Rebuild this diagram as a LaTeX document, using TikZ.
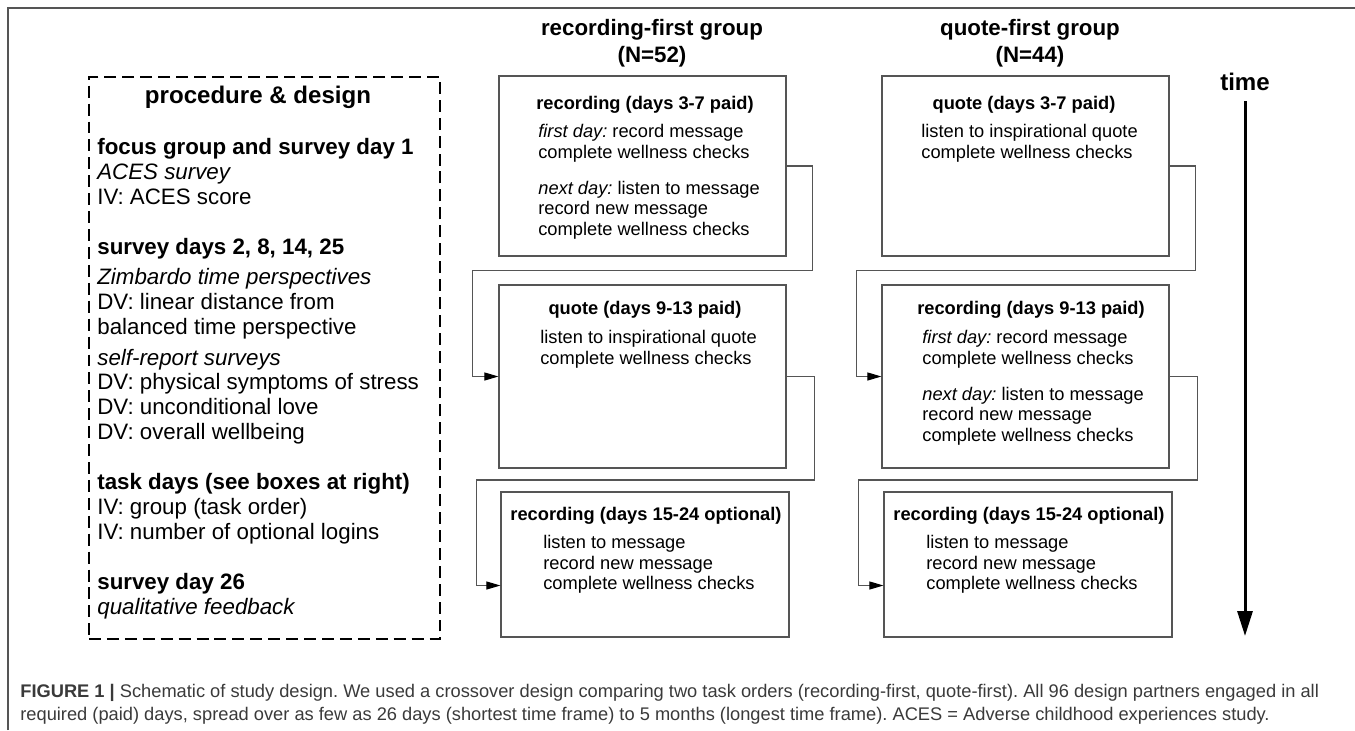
\documentclass[tikz,border=0pt]{standalone}
\usepackage{fontspec}
\setmainfont{Liberation Sans}
\usepackage{xcolor}
\usetikzlibrary{arrows.meta,calc,positioning}
\frenchspacing

\definecolor{boxgray}{HTML}{555555}
\definecolor{capgray}{HTML}{3A3A3A}

\begin{document}
\begin{tikzpicture}[x=0.02cm,y=-0.02cm,
    stage/.style={draw=boxgray, line width=0.7pt, minimum width=5.74cm, inner sep=0pt},
    flow/.style={boxgray, line width=0.6pt, -{Triangle[length=0.28cm,width=0.16cm,color=black]}},
    stitle/.style={font=\fontsize{10.4}{11.7}\selectfont\bfseries, anchor=base, inner sep=0pt},
    sbody/.style={font=\fontsize{10.4}{11.66}\selectfont, align=left, anchor=north west, inner sep=0pt},
    grphead/.style={font=\fontsize{12.7}{15.4}\selectfont\bfseries, align=center, inner sep=0pt},
    dashbox/.style={draw, line width=1.1pt, dash pattern=on 6.8pt off 3.4pt, inner sep=0pt}]
    \useasboundingbox (0,0) rectangle (1355,730);
    \draw[boxgray, line width=0.85pt] (8,730) -- (8,8) -- (1355,8);

    \node[dashbox, minimum width=7.02cm, minimum height=11.24cm] (proc) at (264.5,358) {};
    \node[font=\fontsize{13.7}{16}\selectfont\bfseries, inner sep=0pt] (proctitle) at (258,97) {procedure \& design};
    \node[font=\fontsize{12.7}{14.2}\selectfont, align=left, anchor=north west, inner sep=0pt] (procbody) at (97,138) {%
        \textbf{focus group and survey day 1}\\
        \textit{ACES survey}\\
        IV: ACES score\\[14.2pt]
        \textbf{survey days 2, 8, 14, 25}\\[2.8pt]
        \textit{Zimbardo time perspectives}\\
        DV: linear distance from\\
        balanced time perspective\\[3.4pt]
        \textit{self-report surveys}\\
        DV: physical symptoms of stress\\
        DV: unconditional love\\
        DV: overall wellbeing\\[14.2pt]
        \textbf{task days (see boxes at right)}\\
        IV: group (task order)\\
        IV: number of optional logins\\[14.2pt]
        \textbf{survey day 26}\\
        \textit{qualitative feedback}};

    \node[grphead] (rfirst) at (652,43.5) {recording-first group\\(N=52)};
    \node[grphead] (qfirst) at (1030,43.5) {quote-first group\\(N=44)};

    \node[stage, minimum height=3.6cm] (r1) at (642.5,166) {};
    \node[stage, minimum height=3.66cm] (r2) at (642.5,376.5) {};
    \node[stage, minimum height=2.9cm, minimum width=5.76cm] (r3) at (645,564.5) {};
    \node[stage, minimum height=3.6cm] (q1) at (1025.5,166) {};
    \node[stage, minimum height=3.66cm] (q2) at (1025.5,376.5) {};
    \node[stage, minimum height=2.9cm, minimum width=5.76cm] (q3) at (1028,564.5) {};

    \node[stitle] (r1t) at (645,109.5) {recording (days 3-7 paid)};
    \node[sbody] (r1b) at (538,124) {\textit{first day:} record message\\
        complete wellness checks\\[8.8pt]
        \textit{next day:} listen to message\\
        record new message\\
        complete wellness checks};
    \node[stitle] (r2t) at (645,314.5) {quote (days 9-13 paid)};
    \node[sbody] (r2b) at (540,330) {listen to inspirational quote\\
        complete wellness checks};
    \node[stitle] (r3t) at (646,520.5) {recording (days 15-24 optional)};
    \node[sbody] (r3b) at (543,535) {listen to message\\
        record new message\\
        complete wellness checks};

    \node[stitle] (q1t) at (1024,109.5) {quote (days 3-7 paid)};
    \node[sbody] (q1b) at (921,124) {listen to inspirational quote\\
        complete wellness checks};
    \node[stitle] (q2t) at (1031,314.5) {recording (days 9-13 paid)};
    \node[sbody] (q2b) at (922,330) {\textit{first day:} record message\\
        complete wellness checks\\[8.8pt]
        \textit{next day:} listen to message\\
        record new message\\
        complete wellness checks};
    \node[stitle] (q3t) at (1029,520.5) {recording (days 15-24 optional)};
    \node[sbody] (q3b) at (926,535) {listen to message\\
        record new message\\
        complete wellness checks};

    \coordinate (r12) at ($(r1.south)!.5!(r2.north)$);
    \coordinate (r23) at ($(r2.south)!.5!(r3.north)$);
    \coordinate (q12) at ($(q1.south)!.5!(q2.north)$);
    \coordinate (q23) at ($(q2.south)!.5!(q3.north)$);
    \draw[flow] (r1.east) -- ++(26,0) |- ($(r2.west |- r12)+(-26,0)$) |- (r2.west);
    \draw[flow] (r2.east) -- ++(28,0) |- ($(r3.west |- r23)+(-24,0)$) |- ([shift={(0,21)}]r3.west);
    \draw[flow] (q1.east) -- ++(26,0) |- ($(q2.west |- q12)+(-25,0)$) |- (q2.west);
    \draw[flow] (q2.east) -- ++(28,0) |- ($(q3.west |- q23)+(-25,0)$) |- ([shift={(0,21)}]q3.west);

    \node[font=\fontsize{13.7}{16}\selectfont\bfseries, inner sep=0pt] (time) at (1245,82) {time};
    \coordinate (tend) at (1245,636);
    \draw[line width=1.7pt, -{Triangle[length=0.5cm,width=0.3cm]}] ([yshift=-0.2cm]time.south) -- (tend);

    \node[font=\fontsize{10.4}{13.1}\selectfont, text=capgray, align=left, anchor=north west, inner sep=0pt] (caption) at (20,684) {%
        \textbf{FIGURE 1 |} Schematic of study design. We used a crossover design comparing two task orders (recording-first, quote-first). All 96 design partners engaged in all\\
        required (paid) days, spread over as few as 26 days (shortest time frame) to 5 months (longest time frame). ACES = Adverse childhood experiences study.};
\end{tikzpicture}
\end{document}
